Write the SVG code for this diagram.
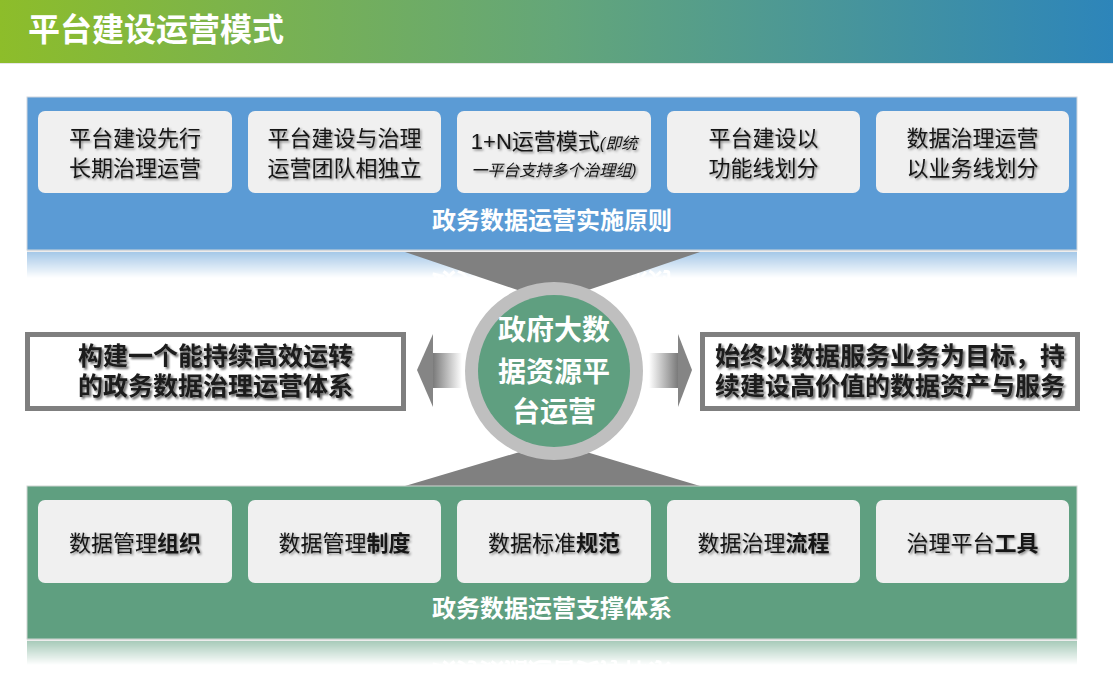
<svg xmlns="http://www.w3.org/2000/svg" width="1113" height="691" viewBox="0 0 1113 691">
<defs>
  <linearGradient id="hdr" x1="0" y1="0" x2="1" y2="0">
    <stop offset="0" stop-color="#8dbd2a"/>
    <stop offset="0.5" stop-color="#64a679"/>
    <stop offset="1" stop-color="#2d85ba"/>
  </linearGradient>
  <linearGradient id="fade" x1="0" y1="0" x2="0" y2="1">
    <stop offset="0" stop-color="#fff" stop-opacity="0.55"/>
    <stop offset="1" stop-color="#fff" stop-opacity="0"/>
  </linearGradient>
  <mask id="mBlue" maskUnits="userSpaceOnUse" x="0" y="251" width="1113" height="30">
    <rect x="0" y="252" width="1113" height="26" fill="url(#fade)"/>
  </mask>
  <mask id="mGreen" maskUnits="userSpaceOnUse" x="0" y="640" width="1113" height="30">
    <rect x="0" y="641" width="1113" height="24" fill="url(#fade)"/>
  </mask>
  <linearGradient id="shaftL" x1="0" y1="0" x2="1" y2="0">
    <stop offset="0" stop-color="#7a7a7a"/>
    <stop offset="1" stop-color="#ffffff"/>
  </linearGradient>
  <linearGradient id="shaftR" x1="0" y1="0" x2="1" y2="0">
    <stop offset="0" stop-color="#ffffff"/>
    <stop offset="1" stop-color="#7a7a7a"/>
  </linearGradient>
  <filter id="sh" x="-10%" y="-30%" width="120%" height="160%">
    <feDropShadow dx="1.5" dy="1.5" stdDeviation="1.2" flood-color="#000" flood-opacity="0.45"/>
  </filter>
  <filter id="sh2" x="-10%" y="-30%" width="120%" height="160%">
    <feDropShadow dx="2" dy="2" stdDeviation="1.3" flood-color="#000" flood-opacity="0.6"/>
  </filter>
</defs>
<style>
  .card { fill: #f0f0f0; }
  .ctext { font-family: "Liberation Sans", "Noto Sans CJK SC", sans-serif; font-size: 22px; fill: #151515; text-anchor: middle; filter: url(#sh); }
  .small { font-size: 16px; font-style: italic; }
  .ptitle { font-family: "Noto Sans CJK SC", sans-serif; font-size: 24px; font-weight: bold; fill: #ffffff; text-anchor: middle; }
  .btext { font-family: "Noto Sans CJK SC", sans-serif; font-size: 25px; font-weight: bold; fill: #1a1a1a; text-anchor: middle; filter: url(#sh2); }
  .ctr { font-family: "Noto Sans CJK SC", sans-serif; font-size: 28px; font-weight: bold; fill: #ffffff; text-anchor: middle; }
  .box { fill: #ffffff; stroke: #7f7f7f; stroke-width: 5; }
  .funnel { fill: #808080; }
</style>

<g id="header">
  <rect x="0" y="0" width="1113" height="63" fill="url(#hdr)"/>
  <rect x="0" y="63" width="1113" height="1" fill="#e6e6e6"/>
  <text x="28" y="41" font-family="Noto Sans CJK SC, sans-serif" font-size="32" font-weight="bold" fill="#ffffff">平台建设运营模式</text>
</g>

<g id="reflections">
  <g mask="url(#mBlue)">
    <g transform="translate(0,502) scale(1,-1)">
      <rect x="27" y="97" width="1050" height="153" fill="#5b9bd5"/>
      <text x="552" y="229" class="ptitle">政务数据运营实施原则</text>
    </g>
  </g>
  <rect x="27" y="250" width="1050" height="1.5" fill="#dcdcdc"/>
  <g mask="url(#mGreen)">
    <g transform="translate(0,1280) scale(1,-1)">
      <rect x="27" y="486" width="1050" height="153" fill="#5f9f80"/>
      <text x="552" y="617" class="ptitle">政务数据运营支撑体系</text>
    </g>
  </g>
  <rect x="27" y="639" width="1050" height="1.5" fill="#dcdcdc"/>
</g>

<g id="connectors">
  <polygon class="funnel" points="405,252 700,252 553,302"/>
  <polygon class="funnel" points="405,486 700,486 553,442"/>
  <rect x="433" y="353" width="29" height="35" fill="url(#shaftL)"/>
  <polygon points="417,370 433,334 433,407" fill="#858585"/>
  <rect x="649" y="353" width="29" height="35" fill="url(#shaftR)"/>
  <polygon points="692,370 678,334 678,407" fill="#858585"/>
</g>

<g id="principles">
  <rect x="27" y="97" width="1050" height="153" fill="#5b9bd5" stroke="#cfd6dd" stroke-width="1"/>
  <text x="552" y="229" class="ptitle">政务数据运营实施原则</text>
</g>
<g id="p1">
  <rect class="card" x="38" y="111" width="194" height="82" rx="7"/>
  <text class="ctext" x="135" y="146">平台建设先行</text>
  <text class="ctext" x="135" y="176">长期治理运营</text>
</g>
<g id="p2">
  <rect class="card" x="248" y="111" width="193" height="82" rx="7"/>
  <text class="ctext" x="344.5" y="146">平台建设与治理</text>
  <text class="ctext" x="344.5" y="176">运营团队相独立</text>
</g>
<g id="p3">
  <rect class="card" x="457" y="111" width="194" height="82" rx="7"/>
  <text class="ctext" x="554" y="149">1+N运营模式<tspan class="small">(即统</tspan></text>
  <text class="ctext small" x="554" y="176">一平台支持多个治理组)</text>
</g>
<g id="p4">
  <rect class="card" x="667" y="111" width="193" height="82" rx="7"/>
  <text class="ctext" x="763.5" y="146">平台建设以</text>
  <text class="ctext" x="763.5" y="176">功能线划分</text>
</g>
<g id="p5">
  <rect class="card" x="876" y="111" width="193" height="82" rx="7"/>
  <text class="ctext" x="972.5" y="146">数据治理运营</text>
  <text class="ctext" x="972.5" y="176">以业务线划分</text>
</g>

<g id="support">
  <rect x="27" y="486" width="1050" height="153" fill="#5f9f80" stroke="#cfd6d2" stroke-width="1"/>
  <text x="552" y="617" class="ptitle">政务数据运营支撑体系</text>
</g>
<g id="s1">
  <rect class="card" x="38" y="500" width="194" height="83" rx="7"/>
  <text class="ctext" x="135" y="551">数据管理<tspan font-weight="bold">组织</tspan></text>
</g>
<g id="s2">
  <rect class="card" x="248" y="500" width="193" height="83" rx="7"/>
  <text class="ctext" x="344.5" y="551">数据管理<tspan font-weight="bold">制度</tspan></text>
</g>
<g id="s3">
  <rect class="card" x="457" y="500" width="194" height="83" rx="7"/>
  <text class="ctext" x="554" y="551">数据标准<tspan font-weight="bold">规范</tspan></text>
</g>
<g id="s4">
  <rect class="card" x="667" y="500" width="193" height="83" rx="7"/>
  <text class="ctext" x="763.5" y="551">数据治理<tspan font-weight="bold">流程</tspan></text>
</g>
<g id="s5">
  <rect class="card" x="876" y="500" width="193" height="83" rx="7"/>
  <text class="ctext" x="972.5" y="551">治理平台<tspan font-weight="bold">工具</tspan></text>
</g>

<g id="center">
  <circle cx="554" cy="371" r="89" fill="#bfbfbf"/>
  <circle cx="554" cy="371" r="76" fill="#5f9f80"/>
  <text class="ctr" x="554" y="340">政府大数</text>
  <text class="ctr" x="554" y="382">据资源平</text>
  <text class="ctr" x="554" y="422">台运营</text>
</g>

<g id="goal-left">
  <rect class="box" x="27.5" y="334.5" width="376" height="74"/>
  <text class="btext" x="215.5" y="365">构建一个能持续高效运转</text>
  <text class="btext" x="215.5" y="395">的政务数据治理运营体系</text>
</g>
<g id="goal-right">
  <rect class="box" x="702.5" y="334.5" width="375" height="74"/>
  <text class="btext" x="890" y="365">始终以数据服务业务为目标，持</text>
  <text class="btext" x="890" y="395">续建设高价值的数据资产与服务</text>
</g>
</svg>
